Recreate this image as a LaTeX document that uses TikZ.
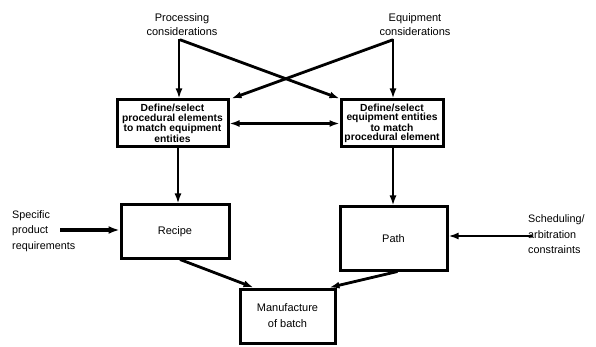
\documentclass[tikz,border=0pt]{standalone}
\usepackage{fontspec}
\setmainfont{Liberation Sans}
\usetikzlibrary{arrows.meta,calc}
\begin{document}
\begin{tikzpicture}[x=1pt,y=-1pt,
  box/.style={draw,line width=3pt,inner sep=0pt,align=center},
  lbl/.style={align=center,inner sep=0pt,font=\fontsize{11}{14}\selectfont},
  sidelbl/.style={align=left,inner sep=0pt,font=\fontsize{10.8}{15.5}\selectfont},
  boxtxt/.style={font=\bfseries\fontsize{10.3}{9.3}\selectfont},
  arr/.style={line width=2.8pt,-{Latex[length=10pt,width=7pt]}},
  darr/.style={line width=2.8pt,{Latex[length=10pt,width=7pt]}-{Latex[length=10pt,width=7pt]}}
]
\useasboundingbox (0,0) rectangle (596,347);
\fill[white] (0,0) rectangle (596,347);

\node[lbl] (proc) at (182,24.5) {Processing\\considerations};
\node[lbl] (equip) at (415,24.5) {Equipment\\considerations};

\node[box,boxtxt,minimum width=111pt,minimum height=47pt] (lbox) at (172.5,123.5)
  {Define/select\\procedural elements\\to match equipment\\entities};
\node[box,boxtxt,minimum width=102pt,minimum height=47pt] (rbox) at (392,123.5)
  {Define/select\\equipment entities\\to match\\procedural element};

\node[box,minimum width=108pt,minimum height=53pt,font=\fontsize{11}{13}\selectfont] (recipe) at (175,231.5) {Recipe};
\node[box,minimum width=107pt,minimum height=63pt,font=\fontsize{11}{13}\selectfont] (path) at (393.5,238.5) {Path};
\node[box,minimum width=95pt,minimum height=54pt,font=\fontsize{11}{16}\selectfont] (manuf) at (287.5,316) {Manufacture\\of batch};

\node[sidelbl,anchor=west] (spec) at (12,231) {Specific\\product\\requirements};
\node[sidelbl,anchor=west] (sched) at (528,234.5) {Scheduling/\\arbitration\\constraints};
\coordinate (specend) at (60,230);
\coordinate (schedend) at (532,236);

\draw[arr] ([xshift=-3pt,yshift=-3pt]proc.south) -- ([xshift=6.5pt]lbox.north);
\draw[arr] ([xshift=-2pt,yshift=-4pt]proc.south) -- (rbox.north west);
\draw[arr] ([xshift=-22pt,yshift=-3pt]equip.south) -- ([xshift=1pt]rbox.north);
\draw[arr] ([xshift=-22pt,yshift=-4pt]equip.south) -- ([xshift=2pt]lbox.north east);
\draw[darr] (lbox.east) -- (rbox.west);
\draw[arr] ([xshift=5.5pt]lbox.south) -- ([xshift=3pt]recipe.north);
\draw[arr] ([xshift=1pt]rbox.south) -- ([xshift=-0.5pt]path.north);
\draw[line width=4.5pt,-{Latex[length=11pt,width=8pt]}] (specend) -- (recipe.west |- specend);
\draw[arr] (schedend) -- (path.east |- schedend);
\draw[arr] ([xshift=5pt]recipe.south) -- ([xshift=-34pt]manuf.north);
\draw[arr] ([xshift=4pt]path.south) -- ([xshift=42pt]manuf.north);
\end{tikzpicture}
\end{document}
